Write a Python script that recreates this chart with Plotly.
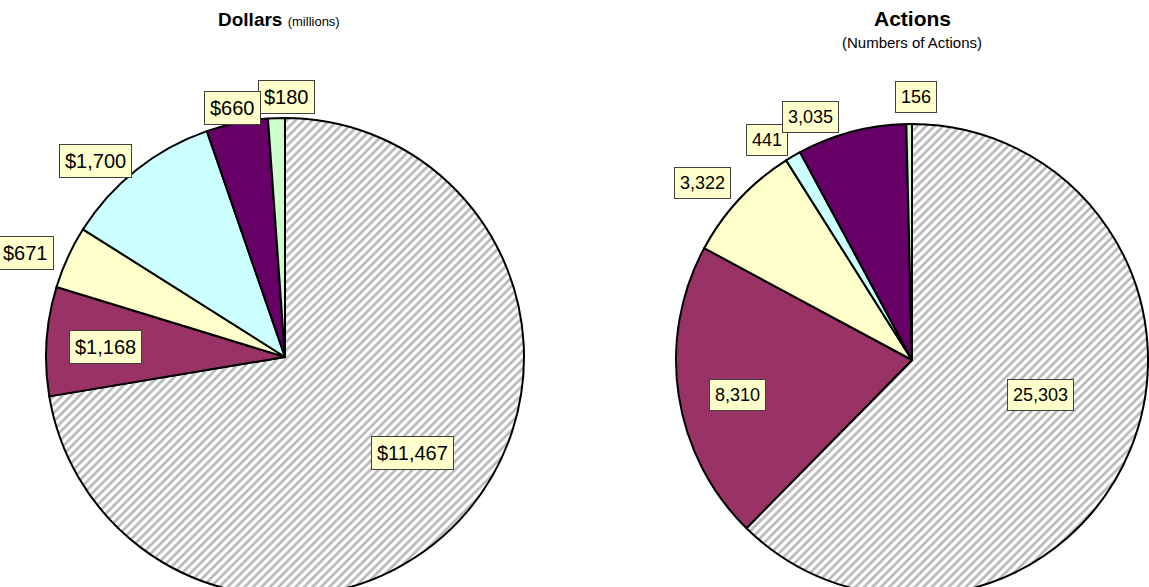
import plotly.graph_objects as go

# ---- data ----
categories = ["Cat A", "Cat B", "Cat C", "Cat D", "Cat E", "Cat F"]
dollars = [11467, 1168, 671, 1700, 660, 180]
actions = [25303, 8310, 3322, 441, 3035, 156]

dollar_labels = ["$" + f"{v:,}" for v in dollars]
action_labels = [f"{v:,}" for v in actions]

# ---- style ----
slice_colors = ["white", "#993366", "#FFFFCC", "#CCFFFF", "#660066", "#CCFFCC"]
patterns = ["/", "", "", "", "", ""]
W, H = 1149, 600
FONT = "Arial, Liberation Sans, sans-serif"

# pie geometry in pixels (center x, center y, radius)
left_geo = (285, 357, 239)
right_geo = (912, 360, 236)

# label anchor positions in pixels
left_label_pos = [(412, 453), (105, 347), (25, 253), (95, 161), (232, 108), (286, 97)]
right_label_pos = [(1040, 395), (737, 395), (702, 183), (767, 140), (810, 117), (916, 97)]
# drawing order of labels (later = on top)
left_order = [0, 1, 2, 3, 5, 4]
right_order = [0, 1, 2, 3, 4, 5]


def dom(geo):
    cx, cy, r = geo
    return dict(x=[max(0, (cx - r) / W), min(1, (cx + r) / W)],
                y=[max(0, 1 - (cy + r) / H), min(1, 1 - (cy - r) / H)])


def pie(values, geo):
    return go.Pie(
        labels=categories, values=values, sort=False, direction="clockwise",
        rotation=0, textinfo="none", showlegend=False, domain=dom(geo),
        marker=dict(colors=slice_colors,
                    line=dict(color="black", width=2),
                    pattern=dict(shape=patterns, fgcolor="#B8B8B8",
                                 bgcolor=slice_colors, size=6, solidity=0.45)),
    )


fig = go.Figure([pie(dollars, left_geo), pie(actions, right_geo)])

annotations = []
for labels, positions, order, fsize in ((dollar_labels, left_label_pos, left_order, 20),
                                        (action_labels, right_label_pos, right_order, 18)):
    for i in order:
        px, py = positions[i]
        annotations.append(dict(
            x=px / W, y=1 - py / H, xref="paper", yref="paper", text=labels[i],
            showarrow=False, xanchor="center", yanchor="middle",
            font=dict(family=FONT, size=fsize, color="black"),
            bgcolor="#FFFFCC", bordercolor="#404040", borderwidth=1, borderpad=5,
        ))

annotations.append(dict(x=279 / W, y=1 - 20 / H, xref="paper", yref="paper",
                        text="<b>Dollars</b> <span style='font-size:13px'>(millions)</span>",
                        showarrow=False, xanchor="center", yanchor="middle",
                        font=dict(family=FONT, size=19, color="black")))
annotations.append(dict(x=912 / W, y=1 - 18 / H, xref="paper", yref="paper",
                        text="<b>Actions</b>", showarrow=False,
                        xanchor="center", yanchor="middle",
                        font=dict(family=FONT, size=21, color="black")))
annotations.append(dict(x=912 / W, y=1 - 43 / H, xref="paper", yref="paper",
                        text="(Numbers of Actions)", showarrow=False,
                        xanchor="center", yanchor="middle",
                        font=dict(family=FONT, size=15, color="black")))

fig.update_layout(
    width=W, height=H, margin=dict(l=0, r=0, t=0, b=0),
    paper_bgcolor="white", plot_bgcolor="white",
    annotations=annotations, font=dict(family=FONT),
)

fig.write_html(
    "out.html",
    config={"displayModeBar": False},
    post_script="document.body.style.margin='0';document.body.style.overflow='hidden';"
                "document.documentElement.style.overflow='hidden';",
)
